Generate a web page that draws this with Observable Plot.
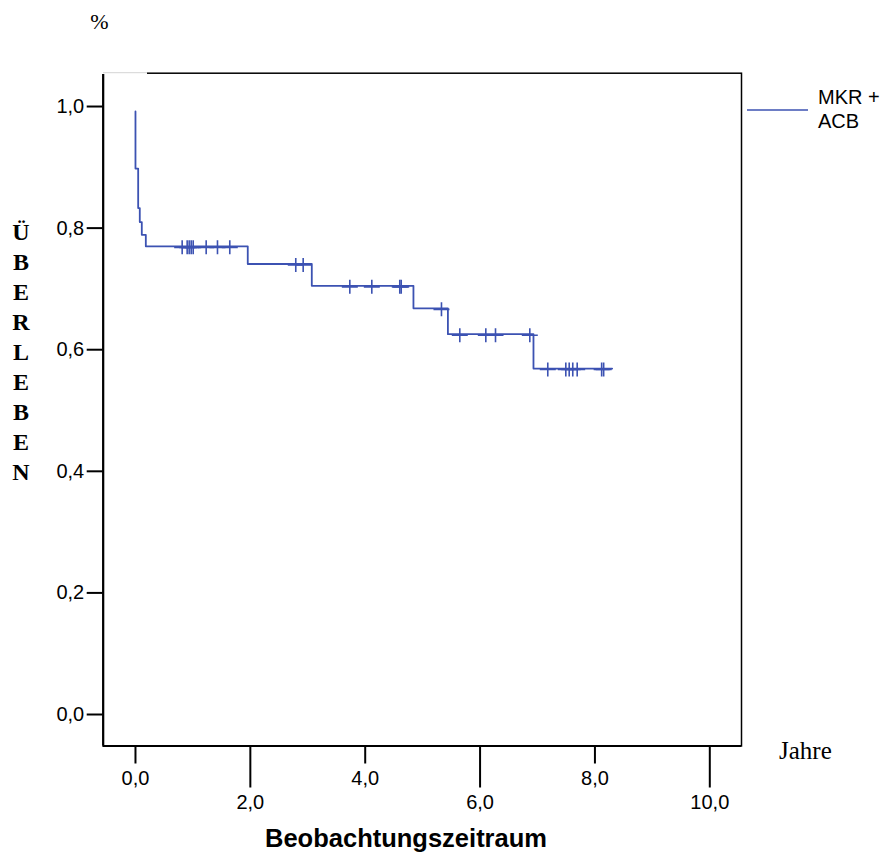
<!DOCTYPE html>
<html>
<head>
<meta charset="utf-8">
<script src="https://cdn.jsdelivr.net/npm/d3@7"></script>
<script src="https://cdn.jsdelivr.net/npm/@observablehq/plot@0.6"></script>
<style>
  html, body { margin: 0; padding: 0; background: #fff; }
  #chart { width: 890px; height: 859px; }
</style>
</head>
<body>
<div id="chart"></div>
<script>
// Kaplan–Meier survival, MKR + ACB group (time in years, cumulative survival)
const stepTimes    = [0,     0,     0.047, 0.075, 0.11,  0.18,  1.955, 3.07,  4.84,  5.44,   6.93,  8.30];
const stepSurvival = [0.992, 0.898, 0.833, 0.810, 0.789, 0.770, 0.741, 0.705, 0.668, 0.6255, 0.569, 0.569];

// censored cases (time, survival level at that time)
const censorTimes = [
  0.813, 0.900, 0.935, 0.970, 1.005, 1.231, 1.428, 1.642,
  2.791, 2.920,
  3.732, 4.115, 4.602, 4.627,
  5.328,
  5.647, 6.100, 6.269, 6.866,
  7.179, 7.493, 7.552, 7.614, 7.691, 8.117, 8.152
];
const censorSurvival = [
  0.770, 0.770, 0.770, 0.770, 0.770, 0.770, 0.770, 0.770,
  0.741, 0.741,
  0.705, 0.705, 0.705, 0.705,
  0.668,
  0.6255, 0.6255, 0.6255, 0.6255,
  0.569, 0.569, 0.569, 0.569, 0.569, 0.569, 0.569
];

const xTicksShort = [0, 4, 8];
const xTicksLong  = [2, 6, 10];
const yTicks      = [0, 0.2, 0.4, 0.6, 0.8, 1.0];
const seriesLabel = ["MKR +", "ACB"];
const yTitle      = "ÜBERLEBEN";

const xDomain = [-0.562, 10.552];
const yDomain = [-0.0518, 1.0548];
const curveColor = "#3c52b2";

const stepData = stepTimes.map((t, i) => ({t, s: stepSurvival[i]}));
const censorData = censorTimes.map((t, i) => ({t, s: censorSurvival[i]}));

const fmt = d => d.toFixed(1).replace(".", ",");

// "+" censor marker: wider horizontal arm than vertical one
const censorSymbol = {
  draw(context) {
    context.moveTo(0, -7); context.lineTo(0, 7);
    context.moveTo(-8, 0); context.lineTo(8, 0);
  }
};

const sans = "'Liberation Sans', Arial, sans-serif";
const serif = "'Liberation Serif', 'Times New Roman', serif";

const plot = Plot.plot({
  width: 890,
  height: 859,
  marginLeft: 102.7,
  marginRight: 149,
  marginTop: 72.7,
  marginBottom: 113.5,
  x: {domain: xDomain},
  y: {domain: yDomain},
  style: {fontFamily: sans, fontSize: "20px", color: "#000", background: "#fff"},
  marks: [
    Plot.frame({stroke: "#000", strokeWidth: 1.5}),
    Plot.ruleX([xDomain[0]], {stroke: "#000", strokeWidth: 2.2}),
    Plot.ruleY([yDomain[0]], {stroke: "#000", strokeWidth: 2.2}),
    Plot.axisY({ticks: yTicks, tickFormat: fmt, tickSize: 16, tickPadding: 3, strokeWidth: 2, label: null, fontSize: 20}),
    Plot.axisX({ticks: xTicksShort, tickFormat: fmt, tickSize: 18, tickPadding: 7, strokeWidth: 2, label: null, fontSize: 20}),
    Plot.axisX({ticks: xTicksLong, tickFormat: fmt, tickSize: 42, tickPadding: 7, strokeWidth: 2, label: null, fontSize: 20}),
    Plot.line(stepData, {x: "t", y: "s", curve: "step-after", stroke: curveColor, strokeWidth: 1.8}),
    Plot.dot(censorData, {x: "t", y: "s", symbol: censorSymbol, stroke: curveColor, fill: "none", strokeWidth: 1.6, dy: 1})
  ]
});

document.getElementById("chart").appendChild(plot);

const svg = d3.select(plot);

// light segment at the left end of the top border
svg.append("line").attr("x1", 102).attr("x2", 147).attr("y1", 72.7).attr("y2", 72.7)
  .attr("stroke", "#fff").attr("stroke-width", 2.5);
svg.append("line").attr("x1", 103).attr("x2", 147).attr("y1", 72.7).attr("y2", 72.7)
  .attr("stroke", "#d4d4d4").attr("stroke-width", 1);

// unit above the y axis
svg.append("text").attr("x", 99.5).attr("y", 29).attr("text-anchor", "middle")
  .attr("font-family", serif).attr("font-size", 22).attr("fill", "#000").text("%");

// vertical stacked y-axis title
const yt = svg.append("text").attr("font-family", serif).attr("font-size", 24)
  .attr("font-weight", "bold").attr("text-anchor", "middle").attr("fill", "#000");
Array.from(yTitle).forEach((ch, i) => {
  yt.append("tspan").attr("x", 21).attr("y", 240 + i * 30).text(ch);
});

// time unit at the right end of the x axis
svg.append("text").attr("x", 779).attr("y", 759).attr("text-anchor", "start")
  .attr("font-family", serif).attr("font-size", 25).attr("fill", "#000").text("Jahre");

// x-axis title
svg.append("text").attr("x", 406).attr("y", 847).attr("text-anchor", "middle")
  .attr("font-family", sans).attr("font-size", 25.5).attr("font-weight", "bold")
  .attr("fill", "#000").text("Beobachtungszeitraum");

// legend
svg.append("line").attr("x1", 747).attr("x2", 808).attr("y1", 110).attr("y2", 110)
  .attr("stroke", curveColor).attr("stroke-width", 1.6);
seriesLabel.forEach((s, i) => {
  svg.append("text").attr("x", 818).attr("y", 104 + i * 24).attr("text-anchor", "start")
    .attr("font-family", sans).attr("font-size", 20).attr("fill", "#000").text(s);
});
</script>
</body>
</html>
